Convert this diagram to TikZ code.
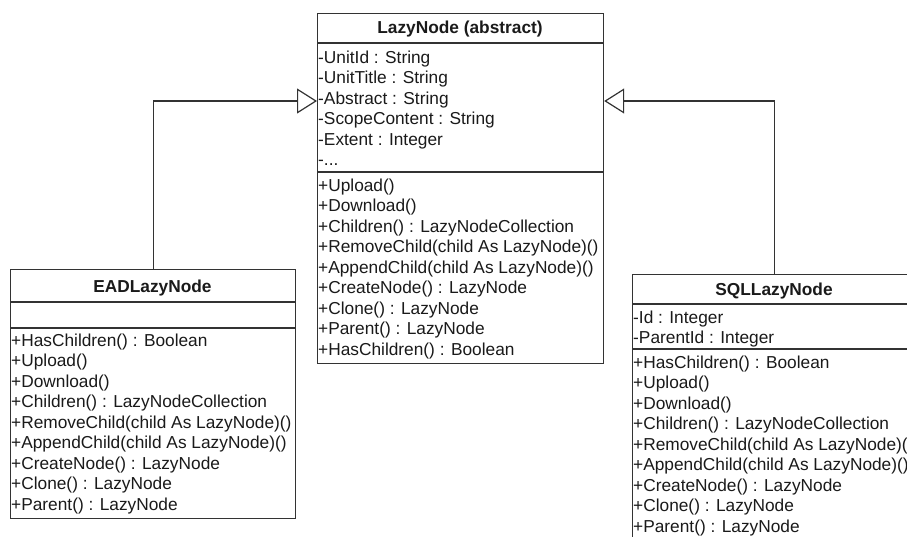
\documentclass[tikz,border=0pt]{standalone}
\usepackage{fontspec}
\setmainfont{Liberation Sans}
\usetikzlibrary{arrows.meta}
\definecolor{ln}{HTML}{333333}
\definecolor{tx}{HTML}{1A1A1A}
\tikzset{
  umlbox/.style={draw=ln, line width=1.2pt, fill=white, anchor=north west, inner sep=0pt},
  sepline/.style={draw=ln, line width=1.2pt},
  txt/.style={anchor=base west, inner sep=0pt, text=tx, font=\fontsize{17.3pt}{20pt}\selectfont},
  ttl/.style={anchor=base, inner sep=0pt, text=tx, font=\fontsize{17.3pt}{20pt}\selectfont\bfseries},
  inherit/.style={draw=ln, line width=1.2pt, -{Triangle[open, length=20pt, width=25pt, line width=1.2pt]}}
}
\begin{document}
\begin{tikzpicture}[x=1pt, y=-1pt]
\useasboundingbox (0,0) rectangle (907,536);
\clip (0,0) rectangle (907,536);
% ---------- LazyNode ----------
\node[umlbox, minimum width=286pt, minimum height=350pt] (lazy) at (317,13) {};
\draw[sepline] (lazy.west |- 0,43) -- (lazy.east |- 0,43);
\draw[sepline] (lazy.west |- 0,172) -- (lazy.east |- 0,172);
\node[ttl] (lazyt) at (460,33.5) {LazyNode (abstract)};
\node[txt] (la1) at (318,63) {-UnitId : String};
\node[txt] (la2) at (318,83.5) {-UnitTitle : String};
\node[txt] (la3) at (318,104) {-Abstract : String};
\node[txt] (la4) at (318,124.5) {-ScopeContent : String};
\node[txt] (la5) at (318,145) {-Extent : Integer};
\node[txt] (la6) at (318,165.5) {-...};
\node[txt] (lm1) at (318,191) {+Upload()};
\node[txt] (lm2) at (318,211.5) {+Download()};
\node[txt] (lm3) at (318,232) {+Children() : LazyNodeCollection};
\node[txt] (lm4) at (318,252.5) {+RemoveChild(child As LazyNode)()};
\node[txt] (lm5) at (318,273) {+AppendChild(child As LazyNode)()};
\node[txt] (lm6) at (318,293.5) {+CreateNode() : LazyNode};
\node[txt] (lm7) at (318,314) {+Clone() : LazyNode};
\node[txt] (lm8) at (318,334.5) {+Parent() : LazyNode};
\node[txt] (lm9) at (318,355) {+HasChildren() : Boolean};
% ---------- EADLazyNode ----------
\node[umlbox, minimum width=285pt, minimum height=249pt] (ead) at (10,269) {};
\draw[sepline] (ead.west |- 0,302) -- (ead.east |- 0,302);
\draw[sepline] (ead.west |- 0,328) -- (ead.east |- 0,328);
\node[ttl] (eadt) at (152.5,292) {EADLazyNode};
\node[txt] (em1) at (11,346) {+HasChildren() : Boolean};
\node[txt] (em2) at (11,366.5) {+Upload()};
\node[txt] (em3) at (11,387) {+Download()};
\node[txt] (em4) at (11,407.5) {+Children() : LazyNodeCollection};
\node[txt] (em5) at (11,428) {+RemoveChild(child As LazyNode)()};
\node[txt] (em6) at (11,448.5) {+AppendChild(child As LazyNode)()};
\node[txt] (em7) at (11,469) {+CreateNode() : LazyNode};
\node[txt] (em8) at (11,489.5) {+Clone() : LazyNode};
\node[txt] (em9) at (11,510) {+Parent() : LazyNode};
% ---------- SQLLazyNode ----------
\node[umlbox, minimum width=284pt, minimum height=280pt] (sql) at (632,274) {};
\draw[sepline] (sql.west |- 0,304) -- (sql.east |- 0,304);
\draw[sepline] (sql.west |- 0,349) -- (sql.east |- 0,349);
\node[ttl] (sqlt) at (774,295) {SQLLazyNode};
\node[txt] (sa1) at (633,323) {-Id : Integer};
\node[txt] (sa2) at (633,343.5) {-ParentId : Integer};
\node[txt] (sm1) at (633,368) {+HasChildren() : Boolean};
\node[txt] (sm2) at (633,388.5) {+Upload()};
\node[txt] (sm3) at (633,409) {+Download()};
\node[txt] (sm4) at (633,429.5) {+Children() : LazyNodeCollection};
\node[txt] (sm5) at (633,450) {+RemoveChild(child As LazyNode)()};
\node[txt] (sm6) at (633,470.5) {+AppendChild(child As LazyNode)()};
\node[txt] (sm7) at (633,491) {+CreateNode() : LazyNode};
\node[txt] (sm8) at (633,511.5) {+Clone() : LazyNode};
\node[txt] (sm9) at (633,532) {+Parent() : LazyNode};
% ---------- generalisations ----------
\coordinate (lin) at (lazy.west |- 0,101);
\coordinate (rin) at (lazy.east |- 0,101);
\draw[inherit] (ead.north) |- (lin);
\draw[inherit] (sql.north) |- (rin);
\end{tikzpicture}
\end{document}
